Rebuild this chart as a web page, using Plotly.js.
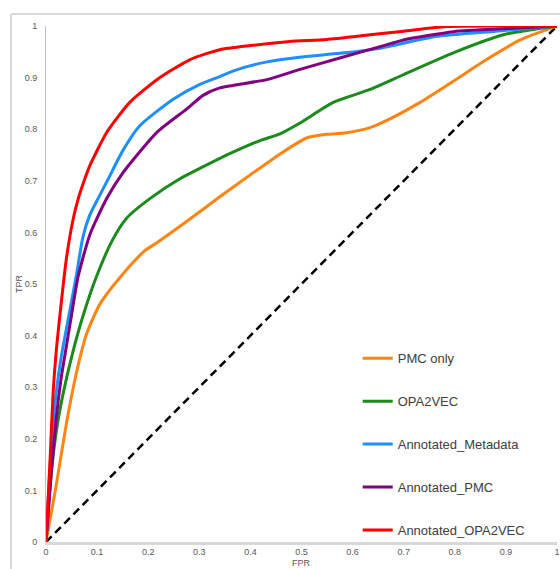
<!DOCTYPE html>
<html>
<head>
<meta charset="utf-8">
<script src="https://cdn.plot.ly/plotly-3.0.1.min.js"></script>
<style>html,body{margin:0;padding:0;background:#fff;}#chart{width:560px;height:569px;}</style>
</head>
<body>
<div id="chart"></div>
<script>
// Series names (legend order)
const seriesNames = ["PMC only", "OPA2VEC", "Annotated_Metadata", "Annotated_PMC", "Annotated_OPA2VEC"];
const seriesColors = ["#FF8412", "#1C8A1C", "#1E8FFF", "#800080", "#FF0000"];

// ROC curve points
const pmcFPR = [0, 0.02, 0.04, 0.06, 0.08, 0.106, 0.151, 0.194, 0.217, 0.275, 0.34, 0.399, 0.464, 0.51, 0.549, 0.588, 0.634, 0.673, 0.732, 0.797, 0.862, 0.928, 1];
const pmcTPR = [0, 0.11, 0.23, 0.33, 0.405, 0.462, 0.52, 0.565, 0.58, 0.621, 0.669, 0.711, 0.756, 0.783, 0.79, 0.793, 0.803, 0.82, 0.852, 0.893, 0.935, 0.973, 1];

const opaFPR = [0, 0.01, 0.021, 0.034, 0.053, 0.073, 0.099, 0.13, 0.158, 0.204, 0.262, 0.301, 0.367, 0.419, 0.458, 0.497, 0.562, 0.634, 0.70, 0.797, 0.895, 1];
const opaTPR = [0, 0.13, 0.22, 0.29, 0.37, 0.44, 0.515, 0.585, 0.628, 0.666, 0.704, 0.724, 0.756, 0.778, 0.791, 0.812, 0.852, 0.877, 0.906, 0.948, 0.983, 1];

const metaFPR = [0, 0.01, 0.02, 0.03, 0.045, 0.06, 0.072, 0.085, 0.102, 0.122, 0.15, 0.184, 0.249, 0.301, 0.34, 0.37, 0.43, 0.5, 0.575, 0.654, 0.765, 0.88, 1];
const metaTPR = [0, 0.18, 0.29, 0.36, 0.44, 0.52, 0.59, 0.632, 0.666, 0.704, 0.758, 0.807, 0.858, 0.887, 0.902, 0.914, 0.93, 0.94, 0.947, 0.957, 0.98, 0.99, 1];

const apmcFPR = [0, 0.01, 0.02, 0.03, 0.04, 0.05, 0.063, 0.086, 0.119, 0.15, 0.217, 0.275, 0.308, 0.34, 0.432, 0.497, 0.575, 0.654, 0.70, 0.797, 0.9, 1];
const apmcTPR = [0, 0.13, 0.24, 0.32, 0.38, 0.44, 0.515, 0.596, 0.666, 0.715, 0.794, 0.839, 0.866, 0.88, 0.896, 0.916, 0.938, 0.96, 0.973, 0.989, 0.995, 1];

const aopaFPR = [0, 0.008, 0.014, 0.021, 0.03, 0.04, 0.053, 0.063, 0.076, 0.086, 0.119, 0.164, 0.217, 0.282, 0.34, 0.40, 0.477, 0.549, 0.634, 0.70, 0.784, 0.9, 1];
const aopaTPR = [0, 0.16, 0.29, 0.38, 0.465, 0.55, 0.625, 0.665, 0.704, 0.73, 0.794, 0.852, 0.896, 0.935, 0.954, 0.962, 0.97, 0.974, 0.983, 0.99, 0.999, 1, 1];

const diagX = [0, 1];
const diagY = [0, 1];

const tickVals = [0, 0.1, 0.2, 0.3, 0.4, 0.5, 0.6, 0.7, 0.8, 0.9, 1];
const tickText = ["0", "0.1", "0.2", "0.3", "0.4", "0.5", "0.6", "0.7", "0.8", "0.9", "1"];
const xTitle = "FPR";
const yTitle = "TPR";

const xs = [pmcFPR, opaFPR, metaFPR, apmcFPR, aopaFPR];
const ys = [pmcTPR, opaTPR, metaTPR, apmcTPR, aopaTPR];

const traces = [{
  x: diagX, y: diagY, mode: "lines", showlegend: false, hoverinfo: "skip",
  line: {color: "#000000", width: 2.5, dash: "8px,5px"}, cliponaxis: false
}];
for (let i = 0; i < seriesNames.length; i++) {
  traces.push({
    x: xs[i], y: ys[i], name: seriesNames[i], legendgroup: "g" + i,
    mode: "lines", cliponaxis: false,
    line: {color: seriesColors[i], width: 3, shape: "spline", smoothing: 0.6}
  });
}

const fam = "Liberation Sans, Arial, sans-serif";
const tickFont = {family: fam, size: 9, color: "#595959"};
const layout = {
  width: 560, height: 569,
  margin: {l: 46, r: 3, t: 26, b: 27},
  paper_bgcolor: "#ffffff", plot_bgcolor: "#ffffff",
  showlegend: true,
  legend: {
    x: 0.610, y: 0.385, xanchor: "left", yanchor: "top",
    traceorder: "grouped", tracegroupgap: 23,
    font: {family: fam, size: 13, color: "#404040"},
    bgcolor: "rgba(0,0,0,0)", itemwidth: 30
  },
  xaxis: {
    range: [0, 1], tickvals: tickVals, ticktext: tickText, showgrid: false, zeroline: false,
    showline: true, linecolor: "#d9d9d9", linewidth: 2.5, ticks: "", tickfont: tickFont,
    fixedrange: true
  },
  yaxis: {
    range: [0, 1], tickvals: tickVals, ticktext: tickText, showgrid: false, zeroline: false,
    showline: true, linecolor: "#bfbfbf", linewidth: 1, ticks: "", tickfont: tickFont, ticklabelstandoff: 6,
    title: {text: yTitle, font: {family: fam, size: 9, color: "#595959"}, standoff: 0},
    fixedrange: true
  },
  annotations: [
    {text: xTitle, xref: "paper", yref: "paper", x: 0.5, y: -0.0523, xanchor: "center", yanchor: "bottom",
     showarrow: false, borderpad: 0, font: {family: fam, size: 9, color: "#595959"}}
  ],
  shapes: [
    {type: "line", xref: "paper", yref: "paper", x0: -0.0685, x1: -0.0685, y0: -0.06, y1: 1.0233, line: {color: "#d9d9d9", width: 2}},
    {type: "line", xref: "paper", yref: "paper", x0: -0.0685, x1: 1.01, y0: 1.0233, y1: 1.0233, line: {color: "#d9d9d9", width: 2}}
  ]
};

Plotly.newPlot("chart", traces, layout, {displayModeBar: false, staticPlot: true});
</script>
</body>
</html>
